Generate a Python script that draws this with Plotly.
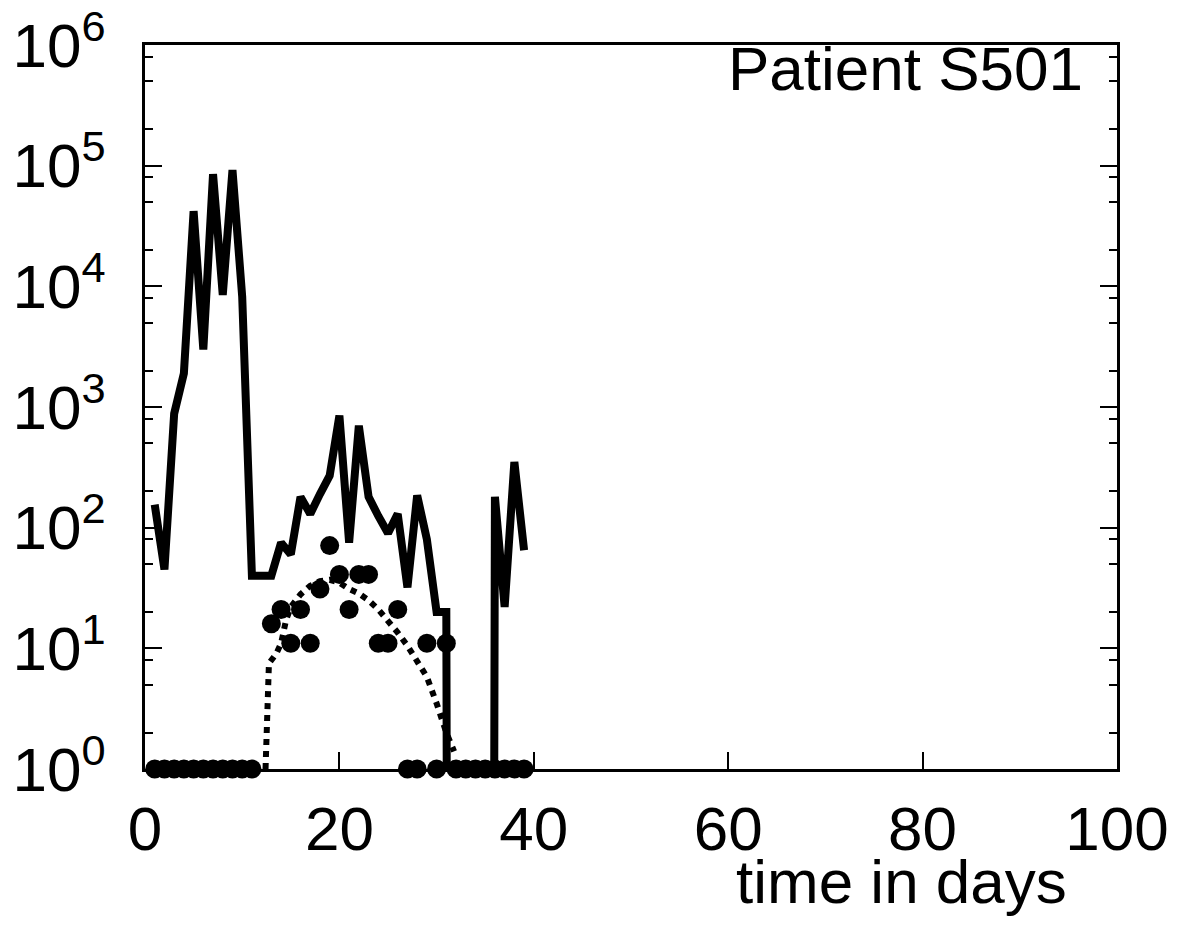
import numpy as np
import plotly.graph_objects as go

# daily values, day 1..39 (0 = nothing detected, drops off the log axis)
days = list(range(1, 40))
load = [155, 45, 880, 1900, 42000, 3000, 85000, 8500, 92000, 8200,
        40, 40, 40, 75, 60, 180, 130, 190, 270, 850,
        75, 700, 180, 125, 90, 130, 32, 185, 80, 20,
        20, 0, 0, 0, 0, 180, 22, 350, 65]

# observed counts (dots), no sample on day 12
obs = [1] * 11 + [None] + [16, 21, 11, 21, 11, 31, 71, 41, 21, 41,
                           41, 11, 11, 21, 1, 1, 11, 1, 11] + [1] * 8

# fitted curve (dotted)
fit_days = [12.4, 12.55, 12.75, 13.5, 14.0, 14.5, 15.0, 16.0, 17.0, 18.0,
            19.0, 20.0, 21.0, 22.0, 23.0, 24.0, 25.0, 26.0, 27.0, 28.0,
            29.0, 30.0, 31.0, 31.8]
fit_vals = [1.0, 4.0, 7.5, 9.0, 11.0, 17.0, 22.0, 28.0, 33.0, 36.0,
            37.0, 35.0, 31.0, 28.5, 25.0, 21.0, 17.0, 13.5, 10.5, 8.0,
            5.8, 3.5, 2.0, 1.4]

y_major = [10 ** k for k in range(7)]
y_labels = ["10<sup>%d</sup>" % k for k in range(7)]
y_minor = [m * 10 ** k for k in range(6) for m in (2, 5, 8)]

# zeros are clipped far below the axis, like the original log plot
load_plot = np.where(np.array(load) > 0, np.array(load, dtype=float), 1e-30)

FONT = "Liberation Sans, Arial, sans-serif"

fig = go.Figure()
fig.add_trace(go.Scatter(x=days, y=load_plot, mode="lines",
                         line=dict(color="black", width=8)))
fig.add_trace(go.Scatter(x=fit_days, y=fit_vals, mode="lines",
                         line=dict(color="black", width=6, dash="dot")))
fig.add_trace(go.Scatter(x=days, y=obs, mode="markers", cliponaxis=False,
                         marker=dict(color="black", size=19)))

fig.add_annotation(text="Patient S501", x=0.967, y=0.968, xref="paper", yref="paper",
                   xanchor="right", yanchor="middle", showarrow=False,
                   font=dict(size=62, color="black", family=FONT))
fig.add_annotation(text="time in days", x=0.778, y=-0.156, xref="paper", yref="paper",
                   xanchor="center", yanchor="middle", showarrow=False,
                   font=dict(size=62, color="black", family=FONT))

# page body has an 8px margin, so the figure is 16px smaller than the window
fig.update_layout(
    width=1168, height=915,
    margin=dict(l=137, r=59, t=37, b=154, autoexpand=False),
    paper_bgcolor="white", plot_bgcolor="white",
    showlegend=False,
    font=dict(family=FONT, size=62, color="black"),
    xaxis=dict(range=[0, 100], tickvals=[0, 20, 40, 60, 80, 100],
               ticks="inside", ticklen=17, tickwidth=2, tickcolor="black",
               showline=True, linewidth=3, linecolor="black", mirror=True,
               showgrid=False, zeroline=False, layer="below traces",
               automargin=False, ticklabelstandoff=4, ticklabeloverflow="allow"),
    yaxis=dict(type="log", range=[0, 6], tickvals=y_major, ticktext=y_labels,
               ticks="inside", ticklen=17, tickwidth=2, tickcolor="black",
               showline=True, linewidth=3, linecolor="black", mirror="ticks",
               showgrid=False, zeroline=False, layer="below traces",
               automargin=False, ticklabelstandoff=24, ticklabeloverflow="allow",
               minor=dict(tickmode="array", tickvals=y_minor, ticks="inside",
                          ticklen=8, tickwidth=2, tickcolor="black", showgrid=False)),
)

fig.write_html("out.html")
